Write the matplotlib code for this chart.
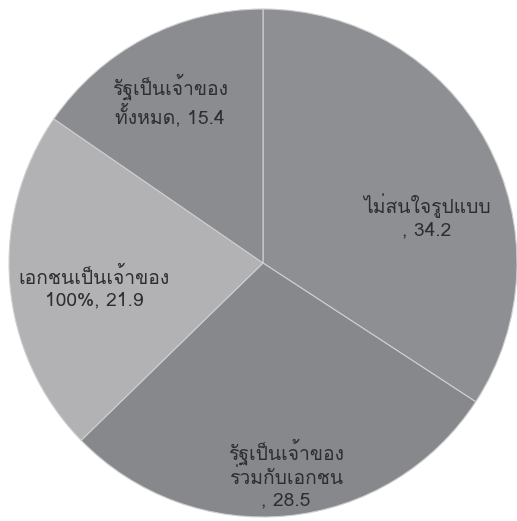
import matplotlib
matplotlib.use("Agg")
import matplotlib.pyplot as plt
from matplotlib import font_manager
from matplotlib.ft2font import FT2Font

# ส่วนแบ่งรูปแบบการเป็นเจ้าของ (ร้อยละ)
categories = ["ไม่สนใจรูปแบบ", "รัฐเป็นเจ้าของร่วมกับเอกชน",
              "เอกชนเป็นเจ้าของ 100%", "รัฐเป็นเจ้าของทั้งหมด"]
values = [34.2, 28.5, 21.9, 15.4]
# ข้อความป้ายตัดบรรทัด (บรรทัดสุดท้ายจะต่อด้วยค่า)
label_lines = [["ไม่สนใจรูปแบบ", ""],
               ["รัฐเป็นเจ้าของ", "ร่วมกับเอกชน", ""],
               ["เอกชนเป็นเจ้าของ", "100%"],
               ["รัฐเป็นเจ้าของ", "ทั้งหมด"]]
colors = ["#8e8f93", "#87888c", "#b2b2b5", "#8b8c90"]
label_pos = [(0.646, 0.185), (0.09, -0.83), (-0.665, -0.098), (-0.366, 0.641)]


def thai_families():
    found = []
    for f in font_manager.fontManager.ttflist:
        try:
            if ord("ก") in FT2Font(f.fname).get_charmap() and f.name not in found:
                found.append(f.name)
        except Exception:
            pass
    # Loma ใกล้เคียง Tahoma มากที่สุด
    found.sort(key=lambda n: 0 if n == "Loma" else 1)
    return found


plt.rcParams["font.family"] = thai_families() + ["DejaVu Sans"]

fig = plt.figure(figsize=(5.17, 5.21), dpi=100)
ax = fig.add_axes([0, 0, 1, 1])
ax.pie(values, colors=colors, startangle=90, counterclock=False,
       radius=1.0, wedgeprops=dict(edgecolor="#cfcfd1", linewidth=0.8))

for lines, v, (x, y) in zip(label_lines, values, label_pos):
    last = (lines[-1] + ", " if lines[-1] else ", ") + f"{v}"
    txt = "\n".join(lines[:-1] + [last])
    ax.text(x, y, txt, ha="center", va="center", fontsize=13.9,
            color="#2e2e30", linespacing=1.2)

# รัศมีวงกลม 254 px, จุดศูนย์กลางที่ (263, 263)
R = 254.0
ax.set_aspect("auto")
ax.set_xlim(-263 / R, (517 - 263) / R)
ax.set_ylim(-(521 - 263) / R, 263 / R)
ax.axis("off")
fig.savefig("out.png", dpi=100, facecolor="white")
